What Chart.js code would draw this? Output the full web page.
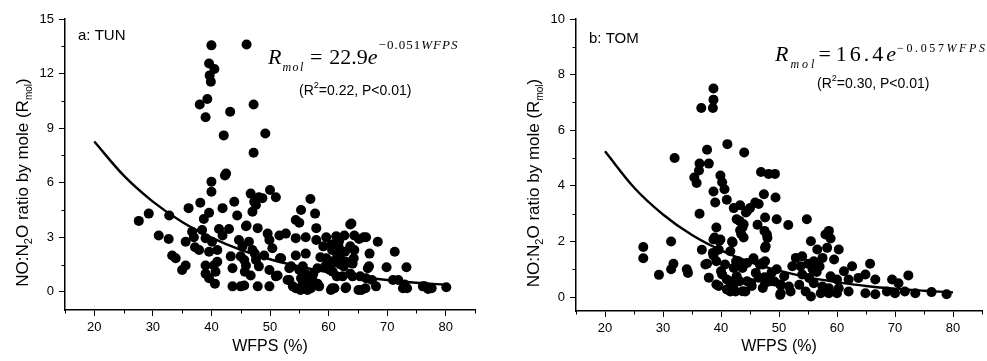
<!DOCTYPE html>
<html>
<head>
<meta charset="utf-8">
<script src="https://cdn.jsdelivr.net/npm/chart.js@4.4.1/dist/chart.umd.min.js"></script>
<style>
    body { margin: 0; background: #fff; }
    .panel { position: absolute; top: 0; height: 361px; }
    #panelA { left: 0; width: 490px; }
    #panelB { left: 490px; width: 497px; }
</style>
</head>
<body>
<div class="panel" id="panelA"><canvas id="chartA" width="490" height="361"></canvas></div>
<div class="panel" id="panelB"><canvas id="chartB" width="497" height="361"></canvas></div>
<script>
// a: TUN
const tunWfps = [
    40.0, 46.0, 39.6, 40.5, 39.7, 39.9, 38.0, 39.3, 39.0, 43.2, 47.2, 42.1, 49.2, 47.2,
    42.5, 42.3, 40.0, 40.0, 46.7, 50.0, 51.0, 48.1, 47.3, 43.9, 38.1, 56.9, 47.6, 47.0, 44.4,
    55.3, 57.7, 54.4, 55.0, 63.9, 36.1, 39.6, 41.9, 29.3, 27.6, 32.8, 38.7, 46.0, 48.7,
    38.4, 41.3, 43.0, 36.7, 31.0, 32.7, 35.6, 37.0, 39.0, 40.1, 41.9, 45.9, 47.9, 49.6, 51.6,
    52.7, 57.9, 54.4, 56.1, 57.9, 59.6, 61.3, 62.7, 64.4, 44.7, 46.4, 49.9, 50.4, 66.4, 68.4,
    65.2, 63.7, 66.0,
    37.9, 39.6, 41.0, 33.3, 33.9, 43.3, 45.0, 47.0, 49.0, 51.9, 54.4, 56.1, 59.6, 61.9, 63.0,
    37.2, 45.3, 47.4, 71.3, 67.0, 64.4, 59.1, 60.6, 61.7, 63.7, 58.6, 64.3,
    35.6, 35.0, 39.0, 40.4, 39.0, 41.0, 43.6, 45.9, 48.1, 49.9, 53.3, 55.6, 58.1, 60.7, 46.7,
    51.0, 53.3, 56.4, 62.4, 69.9, 73.3, 66.7, 64.1, 71.0, 64.1, 66.4, 60.6, 62.6, 66.9, 57.4,
    59.4, 61.4, 63.7, 65.4, 67.4, 40.7, 51.3, 45.7, 53.6, 55.0, 51.7, 47.6, 45.6,
    39.6, 40.6, 43.6, 45.6, 47.9, 49.9, 54.4, 56.1, 58.4, 61.0, 63.0, 65.6, 68.1, 72.7, 73.0,
    76.1, 77.0, 80.1, 60.6, 62.9, 65.1, 66.3, 71.9, 73.4, 76.4, 77.6, 53.0, 53.9, 55.6, 56.4,
    56.7, 58.1, 60.4, 45.0, 55.5, 57.0, 55.2, 55.8, 56.8, 55.3, 57.2, 56.0,
    60.5, 61.5, 62.0, 60.2, 61.8, 62.8, 60.9
];
const tunRatio = [
    13.55, 13.6, 12.55, 12.25, 11.9, 11.55, 10.3, 10.6, 9.6, 9.9, 10.3, 8.6, 8.7, 7.65,
    6.5, 6.4, 6.05, 5.5, 5.4, 5.6, 5.2, 5.2, 4.95, 4.95, 4.9, 5.1, 4.77, 4.4, 4.2,
    4.5, 4.3, 3.95, 3.8, 3.76, 4.6, 4.35, 4.6, 4.3, 3.9, 4.2, 4.0, 3.65, 5.15,
    3.4, 3.45, 3.45, 3.3, 3.1, 2.9, 2.75, 3.0, 2.95, 2.75, 3.1, 3.6, 3.5, 3.2, 3.1,
    3.2, 3.5, 2.95, 3.0, 2.85, 3.0, 3.05, 3.1, 3.1, 2.85, 2.75, 2.85, 2.4, 3.0, 2.75,
    2.9, 3.7, 3.0,
    2.3, 2.2, 2.3, 2.0, 1.85, 1.95, 1.95, 2.3, 2.0, 1.85, 2.0, 2.1, 1.85, 1.95, 1.65,
    2.45, 2.5, 2.1, 2.2, 2.1, 2.3, 2.5, 2.3, 2.5, 2.5, 1.9, 1.85,
    1.45, 1.2, 1.45, 1.45, 1.0, 1.65, 1.3, 1.45, 1.4, 1.2, 1.3, 1.4, 1.3, 1.1, 0.9,
    0.85, 0.65, 0.55, 0.85, 1.35, 1.35, 1.3, 1.55, 0.65, 0.85, 0.75, 1.55, 1.4, 1.4, 1.0,
    1.4, 0.85, 1.0, 0.85, 0.65, 1.1, 0.9, 1.1, 1.4, 1.2, 1.85, 1.75, 1.75,
    0.75, 0.45, 0.3, 0.35, 0.3, 0.3, 0.2, 0.15, 0.3, 0.2, 0.25, 0.1, 0.3, 0.2, 0.4,
    0.3, 0.15, 0.25, 0.2, 0.2, 0.1, 0.2, 0.65, 0.2, 0.3, 0.2, 0.65, 0.3, 0.55, 0.1,
    0.65, 0.45, 0.1, 0.3, 0.3, 0.2, 0.1, 0.4, 0.3, 0.75, 0.8, 1.0,
    2.6, 2.0, 1.5, 1.2, 2.8, 2.2, 1.7
];

// b: TOM
const tomWfps = [
    26.6, 26.6, 29.3, 31.4, 32.0, 31.8, 31.4, 34.1, 34.3, 35.4, 35.8, 36.2, 36.3, 36.3, 36.6,
    36.7, 37.6, 37.9, 37.6, 37.9, 38.7, 38.7, 38.6, 38.7, 39.0, 39.2, 38.7, 39.6, 38.7, 39.9,
    39.9, 40.2, 40.6, 41.0, 41.1, 41.6, 41.9, 42.2, 43.3, 42.7, 43.3, 43.9, 44.0, 43.9, 44.5,
    45.9, 46.3, 46.9, 47.4, 48.2, 49.3, 47.6, 47.9, 47.6, 49.4, 49.6,
    39.6, 41.0, 41.6, 42.5, 44.2, 42.7, 44.5, 45.3, 46.5, 47.6, 48.5, 48.7, 46.7, 45.6, 44.5,
    43.0, 42.2, 40.7, 40.2, 41.0, 42.2, 47.6, 49.6, 50.2, 50.2,
    43.2, 44.3, 43.7, 43.5, 39.7, 38.9, 42.0, 42.6, 38.6, 39.2, 47.2, 37.3, 40.0, 43.7, 46.0,
    39.2, 41.5, 43.2, 45.2, 43.7, 47.2,
    47.5, 48.0, 47.7, 51.6, 54.8, 58.6, 58.9, 58.0, 55.5, 60.3, 56.6, 58.3, 52.9, 54.0, 56.0,
    59.5, 57.5, 52.3, 62.6, 65.7, 61.2, 47.2, 47.5, 49.2, 50.9, 54.0, 55.2, 58.9, 60.0, 62.0,
    63.7, 64.9, 66.6, 69.5, 70.6, 72.3, 50.3, 51.7, 53.5, 56.0, 57.5, 58.6, 60.3, 50.3, 52.0,
    54.6, 55.5, 57.2, 58.6, 60.0, 62.0, 64.9, 66.6, 68.6, 70.0, 71.7, 73.5, 76.3, 78.9, 53.7,
    55.8, 56.5, 57.0, 55.0, 46.5, 45.0
];
const tomRatio = [
    1.8, 1.4, 0.8, 2.0, 5.0, 1.2, 1.0, 1.0, 0.87, 4.3, 4.1, 4.55, 4.8, 3.0, 6.8,
    1.7, 5.3, 4.8, 1.2, 0.7, 7.5, 7.1, 6.8, 3.8, 3.4, 2.5, 2.07, 1.7, 1.5, 2.07,
    4.37, 4.13, 3.88, 3.5, 5.5, 1.65, 2.0, 3.2, 3.3, 2.8, 2.4, 2.14, 5.2, 2.62, 3.1,
    3.4, 2.6, 4.5, 3.7, 4.43, 4.43, 2.86, 2.26, 1.77, 3.58, 2.8,
    0.4, 0.27, 0.2, 0.2, 0.2, 0.75, 0.57, 0.4, 0.7, 0.5, 0.57, 0.87, 1.17, 1.4, 1.23,
    1.29, 1.05, 1.17, 0.81, 0.63, 0.45, 1.29, 1.0, 0.45, 0.08,
    2.74, 3.04, 2.5, 2.26, 2.02, 2.14, 1.96, 1.29, 1.59, 1.29, 1.23, 1.17, 0.93, 1.05, 0.87,
    0.45, 0.57, 0.57, 0.51, 0.21, 0.33,
    2.38, 2.13, 1.83, 2.59, 2.8, 2.38, 2.11, 2.25, 2.01, 1.71, 1.71, 1.77, 1.41, 1.47, 1.29,
    1.35, 1.41, 1.11, 1.11, 1.2, 0.93, 1.17, 0.71, 0.56, 0.75, 0.81, 0.69, 0.75, 0.63, 0.63,
    0.69, 0.81, 0.63, 0.63, 0.5, 0.78, 0.44, 0.38, 0.44, 0.5, 0.38, 0.32, 0.32, 0.14, 0.2,
    0.2, 0.02, 0.14, 0.14, 0.14, 0.2, 0.14, 0.1, 0.2, 0.14, 0.2, 0.14, 0.18, 0.1, 1.11,
    1.0, 0.9, 1.1, 1.2, 3.35, 3.2
];

// fitted curves
const fitWfps = [20, 25, 30, 35, 40, 45, 50, 55, 60, 65, 70, 75, 80];
const tunFit = [8.26, 6.40, 4.96, 3.84, 2.98, 2.31, 1.79, 1.39, 1.07, 0.83, 0.65, 0.50, 0.39];
const tomFit = [5.24, 3.94, 2.97, 2.23, 1.68, 1.26, 0.95, 0.71, 0.54, 0.40, 0.30, 0.23, 0.17];

// axes
const xTicks = [20, 30, 40, 50, 60, 70, 80];
const xMinorTicks = [15, 25, 35, 45, 55, 65, 75, 85];
const tunYTicks = [0, 3, 6, 9, 12, 15];
const tunYMinorTicks = [1.5, 4.5, 7.5, 10.5, 13.5];
const tomYTicks = [0, 2, 4, 6, 8, 10];
const tomYMinorTicks = [1, 3, 5, 7, 9];

const SANS = '"Liberation Sans", Arial, sans-serif';
const SERIF = '"Liberation Serif", "Times New Roman", serif';

const runsWidth = (ctx, runs) => {
    let w = 0;
    runs.forEach(r => {
        ctx.font = r.font;
        for (const ch of r.text) w += ctx.measureText(ch).width + (r.spacing || 0);
        w += r.gap || 0;
    });
    return w;
};
const drawRuns = (ctx, x, y, runs) => {
    runs.forEach(r => {
        ctx.font = r.font;
        for (const ch of r.text) {
            ctx.fillText(ch, x, y + (r.dy || 0));
            x += ctx.measureText(ch).width + (r.spacing || 0);
        }
        x += r.gap || 0;
    });
    return x;
};

const yTitleRuns = [
    { text: 'NO:N', font: '17px ' + SANS },
    { text: '2', font: '11px ' + SANS, dy: 4 },
    { text: 'O ratio by mole (R', font: '17px ' + SANS },
    { text: 'mol', font: '10px ' + SANS, dy: 4 },
    { text: ')', font: '17px ' + SANS }
];

const panelText = {
    id: 'panelText',
    afterDraw(chart, args, opts) {
        const { ctx, chartArea } = chart;
        const sx = chart.scales.x, sy = chart.scales.y;
        ctx.save();
        ctx.fillStyle = '#000';
        ctx.strokeStyle = '#000';
        ctx.lineWidth = 1;

        // minor ticks
        opts.xMinor.forEach(v => {
            const px = Math.round(sx.getPixelForValue(v)) + 0.5;
            ctx.beginPath();
            ctx.moveTo(px, chartArea.bottom);
            ctx.lineTo(px, chartArea.bottom + 3.5);
            ctx.stroke();
        });
        opts.yMinor.forEach(v => {
            const py = Math.round(sy.getPixelForValue(v)) + 0.5;
            ctx.beginPath();
            ctx.moveTo(chartArea.left, py);
            ctx.lineTo(chartArea.left - 3.5, py);
            ctx.stroke();
        });

        // x title
        ctx.textBaseline = 'middle';
        ctx.textAlign = 'center';
        ctx.font = '16px ' + SANS;
        ctx.fillText('WFPS (%)', (chartArea.left + chartArea.right) / 2, 347);

        // y title with subscripts
        ctx.textAlign = 'left';
        ctx.textBaseline = 'alphabetic';
        ctx.save();
        ctx.translate(chartArea.left - 37, (chartArea.top + chartArea.bottom) / 2 + 18);
        ctx.rotate(-Math.PI / 2);
        drawRuns(ctx, -runsWidth(ctx, yTitleRuns) / 2, 0, yTitleRuns);
        ctx.restore();

        // panel label
        ctx.textBaseline = 'middle';
        ctx.font = '15px ' + SANS;
        ctx.fillText(opts.label, chartArea.left + 13, opts.labelY);

        // equation
        ctx.textBaseline = 'alphabetic';
        drawRuns(ctx, chartArea.left + opts.eqX, opts.eqY, opts.eqRuns);

        // R2 / P note
        ctx.textBaseline = 'middle';
        drawRuns(ctx, chartArea.left + opts.noteX, opts.noteY, [
            { text: '(R', font: '14px ' + SANS },
            { text: '2', font: '9px ' + SANS, dy: -5 },
            { text: opts.note, font: '14px ' + SANS }
        ]);
        ctx.restore();
    }
};

const makeChart = (id, xs, ys, fit, yMin, yMax, yTicks, padRight, yWidth, xHeight, text) => {
    const points = xs.map((x, i) => ({ x: x, y: ys[i] }));
    const curve = fitWfps.map((x, i) => ({ x: x, y: fit[i] }));
    return new Chart(document.getElementById(id), {
        type: 'scatter',
        data: {
            datasets: [{
                data: points,
                backgroundColor: '#000',
                borderWidth: 0,
                pointRadius: 5,
                pointHoverRadius: 5,
                order: 2
            }, {
                type: 'line',
                data: curve,
                borderColor: '#000',
                borderWidth: 2.4,
                pointRadius: 0,
                fill: false,
                cubicInterpolationMode: 'monotone',
                order: 1
            }]
        },
        options: {
            responsive: false,
            animation: false,
            devicePixelRatio: 1,
            layout: { padding: { top: 19, right: padRight, left: 0, bottom: 0 } },
            plugins: {
                legend: { display: false },
                tooltip: { enabled: false },
                panelText: text
            },
            scales: {
                x: {
                    type: 'linear',
                    min: 15,
                    max: 85,
                    afterBuildTicks: s => { s.ticks = xTicks.map(v => ({ value: v })); },
                    afterFit: s => { s.height = xHeight; },
                    ticks: { color: '#000', font: { size: 13, family: SANS }, padding: 4 },
                    grid: { drawOnChartArea: false, color: '#000', tickLength: 6, tickWidth: 1 },
                    border: { color: '#000', width: 1.5 }
                },
                y: {
                    min: yMin,
                    max: yMax,
                    afterBuildTicks: s => { s.ticks = yTicks.map(v => ({ value: v })); },
                    afterFit: s => { s.width = yWidth; },
                    ticks: { color: '#000', font: { size: 13, family: SANS }, padding: 5 },
                    grid: { drawOnChartArea: false, color: '#000', tickLength: 6, tickWidth: 1 },
                    border: { color: '#000', width: 1.5 }
                }
            }
        },
        plugins: [panelText]
    });
};

makeChart('chartA', tunWfps, tunRatio, tunFit, -1, 15, tunYTicks, 15, 65, 51, {
    xMinor: xMinorTicks,
    yMinor: tunYMinorTicks,
    label: 'a: TUN',
    labelY: 36,
    eqX: 203,
    eqY: 64,
    eqRuns: [
        { text: 'R', font: 'italic 22px ' + SERIF, gap: 1 },
        { text: 'mol', font: 'italic 12px ' + SERIF, dy: 7, spacing: 1.5, gap: 5 },
        { text: '=', font: '22px ' + SERIF, gap: 7 },
        { text: '22.9', font: '22px ' + SERIF },
        { text: 'e', font: 'italic 22px ' + SERIF, gap: 1 },
        { text: '\u22120.051', font: '13px ' + SERIF, dy: -15, spacing: 1 },
        { text: 'WFPS', font: 'italic 13px ' + SERIF, dy: -15, spacing: 1 }
    ],
    noteX: 234,
    noteY: 91,
    note: '=0.22, P<0.01)'
});

makeChart('chartB', tomWfps, tomRatio, tomFit, -0.5, 10, tomYTicks, 3, 86, 50, {
    xMinor: xMinorTicks,
    yMinor: tomYMinorTicks,
    label: 'b: TOM',
    labelY: 39,
    eqX: 199,
    eqY: 61,
    eqRuns: [
        { text: 'R', font: 'italic 22px ' + SERIF, gap: 2 },
        { text: 'mol', font: 'italic 12px ' + SERIF, dy: 7, spacing: 3, gap: 1 },
        { text: '=', font: '22px ' + SERIF, gap: 5 },
        { text: '16.4', font: '22px ' + SERIF, spacing: 3 },
        { text: 'e', font: 'italic 22px ' + SERIF, gap: 1 },
        { text: '\u22120.057', font: '12px ' + SERIF, dy: -9, spacing: 2.6 },
        { text: 'WFPS', font: 'italic 12px ' + SERIF, dy: -9, spacing: 2.6 }
    ],
    noteX: 241,
    noteY: 84,
    note: '=0.30, P<0.01)'
});
</script>
</body>
</html>
